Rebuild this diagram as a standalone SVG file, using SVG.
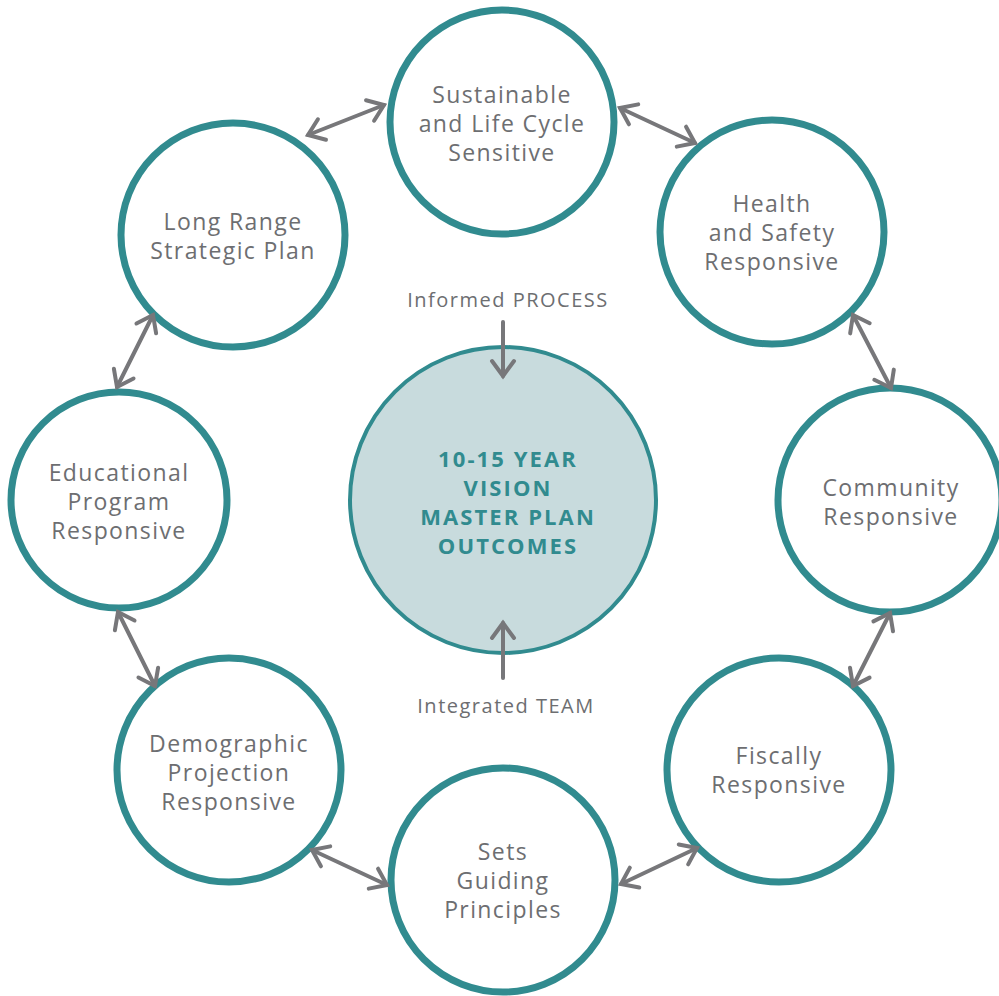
<svg xmlns="http://www.w3.org/2000/svg" width="999" height="996" viewBox="0 0 999 996">
<style>
.ring{fill:#ffffff;stroke:#318b8f;stroke-width:7}
.core{fill:#c8dbdd;stroke:#318b8f;stroke-width:4}
.lbl{font-family:"Open Sans","Liberation Sans",sans-serif;font-size:23px;fill:#6d6e71;text-anchor:middle;letter-spacing:1.4px}
.cap{font-family:"Open Sans","Liberation Sans",sans-serif;font-size:20px;fill:#6d6e71;text-anchor:middle;letter-spacing:1.5px}
.core-t{font-family:"Open Sans","Liberation Sans",sans-serif;font-size:22px;font-weight:bold;fill:#318b8f;text-anchor:middle;letter-spacing:2.1px}
.con{stroke:#77777a;stroke-width:4;fill:none;stroke-linecap:round}
</style>
<defs>
<marker id="ah" markerUnits="userSpaceOnUse" viewBox="-20 -20 40 40" markerWidth="40" markerHeight="40" refX="0" refY="0" orient="auto-start-reverse" overflow="visible">
<path d="M-15,-11 L0,0 L-15,11" fill="none" stroke="#77777a" stroke-width="4" stroke-linecap="round" stroke-linejoin="miter"/>
</marker>
</defs>
<rect width="999" height="996" fill="#ffffff"/>
<g id="node-center">
<circle class="core" cx="503" cy="500" r="153"/>
<text class="core-t" x="508" y="467">10-15 YEAR</text>
<text class="core-t" x="508" y="496">VISION</text>
<text class="core-t" x="508" y="525">MASTER PLAN</text>
<text class="core-t" x="508" y="554">OUTCOMES</text>
</g>
<g id="node-sustainable">
<circle class="ring" cx="502" cy="122" r="112"/>
<text class="lbl" x="502" y="103">Sustainable</text>
<text class="lbl" x="502" y="132">and Life Cycle</text>
<text class="lbl" x="502" y="161">Sensitive</text>
</g>
<g id="node-health">
<circle class="ring" cx="772" cy="232" r="112"/>
<text class="lbl" x="772" y="212">Health</text>
<text class="lbl" x="772" y="241">and Safety</text>
<text class="lbl" x="772" y="270">Responsive</text>
</g>
<g id="node-community">
<circle class="ring" cx="890" cy="500" r="112"/>
<text class="lbl" x="891" y="496">Community</text>
<text class="lbl" x="891" y="525">Responsive</text>
</g>
<g id="node-fiscally">
<circle class="ring" cx="779" cy="770" r="112"/>
<text class="lbl" x="779" y="764">Fiscally</text>
<text class="lbl" x="779" y="793">Responsive</text>
</g>
<g id="node-sets">
<circle class="ring" cx="503" cy="880" r="112"/>
<text class="lbl" x="503" y="860">Sets</text>
<text class="lbl" x="503" y="889">Guiding</text>
<text class="lbl" x="503" y="918">Principles</text>
</g>
<g id="node-demographic">
<circle class="ring" cx="229" cy="770" r="112"/>
<text class="lbl" x="229" y="752">Demographic</text>
<text class="lbl" x="229" y="781">Projection</text>
<text class="lbl" x="229" y="810">Responsive</text>
</g>
<g id="node-educational">
<circle class="ring" cx="119" cy="500" r="108"/>
<text class="lbl" x="119" y="481">Educational</text>
<text class="lbl" x="119" y="510">Program</text>
<text class="lbl" x="119" y="539">Responsive</text>
</g>
<g id="node-longrange">
<circle class="ring" cx="233" cy="235" r="112"/>
<text class="lbl" x="233" y="230">Long Range</text>
<text class="lbl" x="233" y="259">Strategic Plan</text>
</g>
<g id="labels">
<text class="cap" x="508" y="307">Informed PROCESS</text>
<text class="cap" x="506" y="713">Integrated TEAM</text>
</g>
<g id="connectors">
<line class="con" x1="308" y1="135" x2="384" y2="105" marker-start="url(#ah)" marker-end="url(#ah)"/>
<line class="con" x1="620" y1="108" x2="695" y2="143" marker-start="url(#ah)" marker-end="url(#ah)"/>
<line class="con" x1="853" y1="315" x2="891" y2="388" marker-start="url(#ah)" marker-end="url(#ah)"/>
<line class="con" x1="890" y1="613" x2="853" y2="686" marker-start="url(#ah)" marker-end="url(#ah)"/>
<line class="con" x1="697" y1="848" x2="621" y2="884" marker-start="url(#ah)" marker-end="url(#ah)"/>
<line class="con" x1="312" y1="850" x2="387" y2="885" marker-start="url(#ah)" marker-end="url(#ah)"/>
<line class="con" x1="118" y1="612" x2="155" y2="686" marker-start="url(#ah)" marker-end="url(#ah)"/>
<line class="con" x1="153" y1="315" x2="117" y2="387" marker-start="url(#ah)" marker-end="url(#ah)"/>
<line class="con" x1="503" y1="322" x2="503" y2="376" marker-end="url(#ah)"/>
<line class="con" x1="503" y1="678" x2="503" y2="623" marker-end="url(#ah)"/>
</g>
</svg>
